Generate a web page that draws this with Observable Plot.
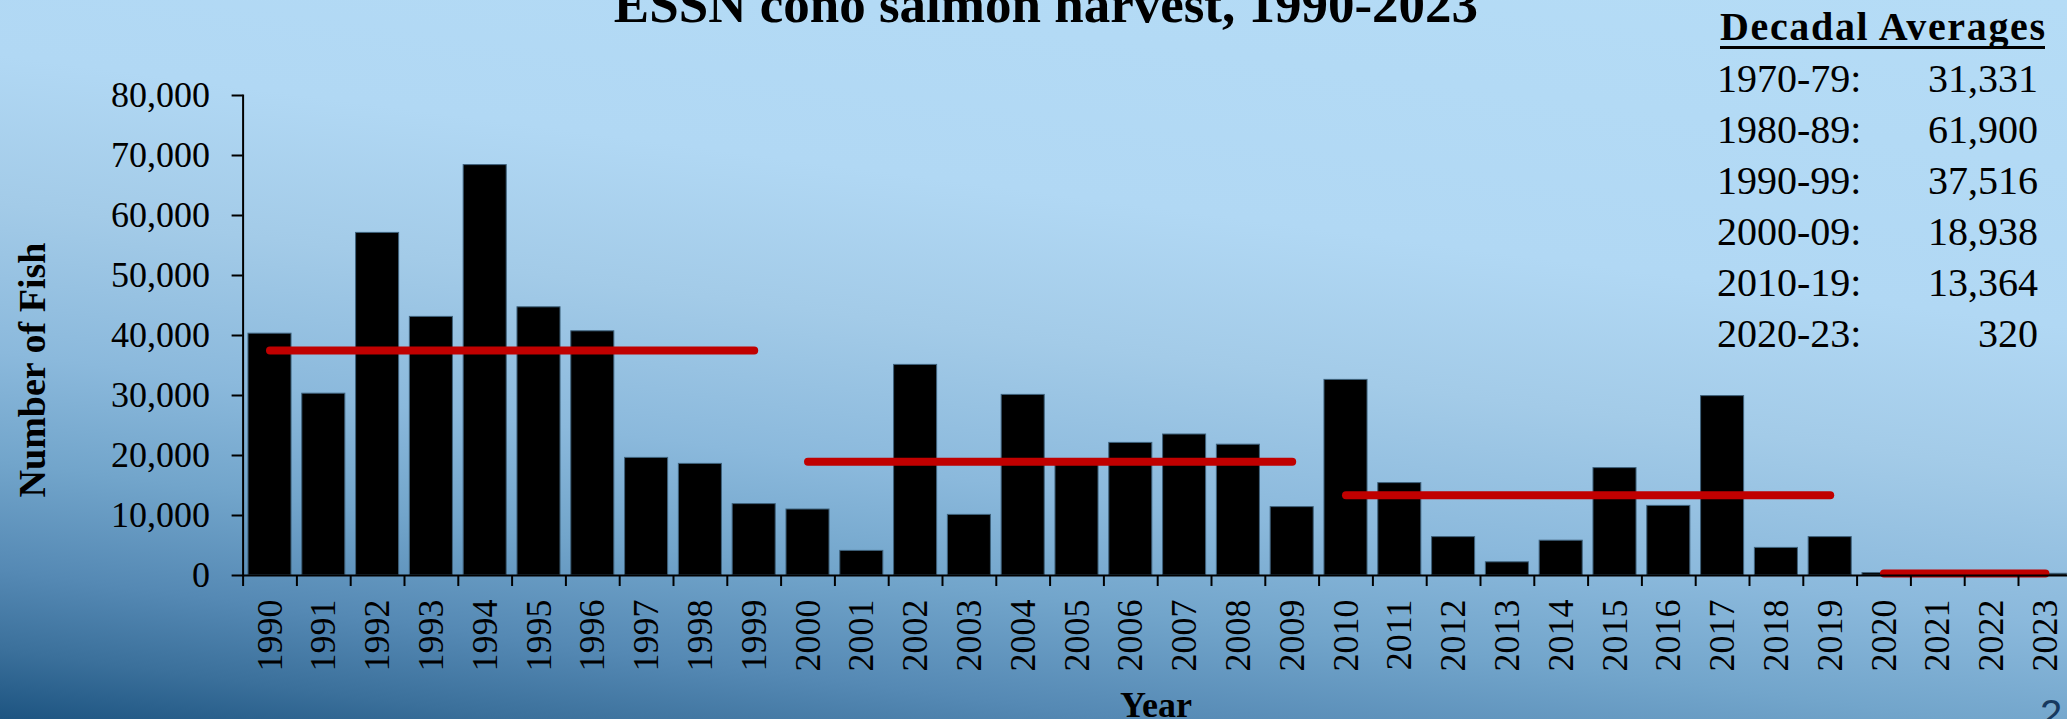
<!DOCTYPE html>
<html><head><meta charset="utf-8">
<script src="https://cdn.jsdelivr.net/npm/d3@7"></script>
<script src="https://cdn.jsdelivr.net/npm/@observablehq/plot@0.6"></script>
<style>
html,body{margin:0;padding:0;background:#fff;}
#wrap{position:relative;width:2067px;height:719px;overflow:hidden;
background:linear-gradient(187.5deg,#b5dcf6 0%,#b1d8f4 33%,#a3cbe8 48%,#8bb9dc 63%,#72a5cb 74%,#5589b4 85%,#3b709b 93%,#1d5481 100%);}
#wrap svg{position:absolute;left:0;top:0;}
</style></head><body><div id="wrap"></div>
<script>
// ---- data ----
const years = ["1990","1991","1992","1993","1994","1995","1996","1997","1998","1999",
  "2000","2001","2002","2003","2004","2005","2006","2007","2008","2009",
  "2010","2011","2012","2013","2014","2015","2016","2017","2018","2019",
  "2020","2021","2022","2023"];
const harvest = [40300,30300,57100,43100,68400,44700,40700,19600,18600,11900,
  11000,4100,35100,10100,30100,19000,22100,23500,21800,11400,
  32600,15400,6400,2200,5800,17900,11600,29900,4600,6400,
  400,300,300,280];
const decadeLabels = ["1970-79:","1980-89:","1990-99:","2000-09:","2010-19:","2020-23:"];
const decadeAverages = [31331,61900,37516,18938,13364,320];
const decadeFirst = ["1970","1980","1990","2000","2010","2020"];
const decadeLast = ["1979","1989","1999","2009","2019","2023"];
const yTicks = [0,10000,20000,30000,40000,50000,60000,70000,80000];
const titleText = "ESSN cono salmon harvest, 1990-2023";
const xLabel = "Year";
const yLabel = "Number of Fish";
const tableTitle = "Decadal Averages";
const pageNumber = "2";

// ---- derived tables ----
const bars = years.map((y, i) => ({year: y, value: harvest[i]}));
const avgLines = [];
decadeLabels.forEach((d, i) => {
  if (years.includes(decadeFirst[i])) {
    avgLines.push({decade: d, year: decadeFirst[i], value: decadeAverages[i]});
    avgLines.push({decade: d, year: decadeLast[i], value: decadeAverages[i]});
  }
});

const W = 2067, H = 719;
const xLeft = 242.6, step = 53.8;
const serif = "'Liberation Serif','Times New Roman',serif";

const chart = Plot.plot({
  width: W, height: H,
  marginLeft: xLeft, marginRight: 0, marginTop: 95, marginBottom: 144,
  style: {background: "transparent", color: "black", fontFamily: serif, fontSize: "36px", overflow: "hidden"},
  x: {type: "band", domain: years, range: [xLeft, xLeft + step * years.length], paddingInner: 0.2, paddingOuter: 0.1, round: false},
  y: {domain: [0, 80000]},
  marks: [
    Plot.barY(bars, {x: "year", y: "value", fill: "black", stroke: "#3f627c", strokeWidth: 1}),
    Plot.line(avgLines, {x: "year", y: "value", z: "decade", stroke: "#c00000", strokeWidth: 8, strokeLinecap: "round"}),
    Plot.ruleY([0], {strokeWidth: 2}),
    Plot.frame({anchor: "left", strokeWidth: 2}),
    Plot.axisY({ticks: yTicks, tickFormat: d3.format(","), tickSize: 11, tickPadding: 22, label: null, fontSize: 36, strokeWidth: 2}),
    Plot.axisX({ticks: years, tickSize: 11, dx: -step / 2, tickFormat: () => "", label: null, strokeWidth: 2}),
    Plot.axisX({ticks: years, tickSize: 0, tickPadding: 24, tickRotate: -90, label: null, fontSize: 36})
  ]
});
document.getElementById("wrap").appendChild(chart);

// ---- annotations ----
const ov = d3.select("#wrap").append("svg")
  .attr("width", W).attr("height", H)
  .attr("font-family", serif).attr("fill", "black");

ov.append("text").attr("x", 1046).attr("y", 22).attr("text-anchor", "middle")
  .attr("font-weight", "bold").attr("font-size", 53).text(titleText);

ov.append("text").attr("x", 1156).attr("y", 717).attr("text-anchor", "middle")
  .attr("font-weight", "bold").attr("font-size", 36).text(xLabel);

ov.append("text").attr("transform", "translate(45,370) rotate(-90)").attr("text-anchor", "middle")
  .attr("font-weight", "bold").attr("font-size", 38).text(yLabel);

ov.append("text").attr("x", 1720).attr("y", 40).attr("font-weight", "bold").attr("font-size", 40)
  .attr("textLength", 325).attr("lengthAdjust", "spacing").text(tableTitle);
ov.append("line").attr("x1", 1720).attr("x2", 2045).attr("y1", 47.5).attr("y2", 47.5)
  .attr("stroke", "black").attr("stroke-width", 3);

decadeLabels.forEach((d, i) => {
  const yy = 91.7 + i * 51;
  ov.append("text").attr("x", 1717).attr("y", yy).attr("font-size", 40).text(d);
  ov.append("text").attr("x", 2038).attr("y", yy).attr("font-size", 40).attr("text-anchor", "end")
    .text(d3.format(",")(decadeAverages[i]));
});

ov.append("text").attr("x", 2040).attr("y", 728).attr("font-family", "'Liberation Sans',sans-serif")
  .attr("font-size", 40).attr("fill", "#17395f").text(pageNumber);
</script>
</body></html>
